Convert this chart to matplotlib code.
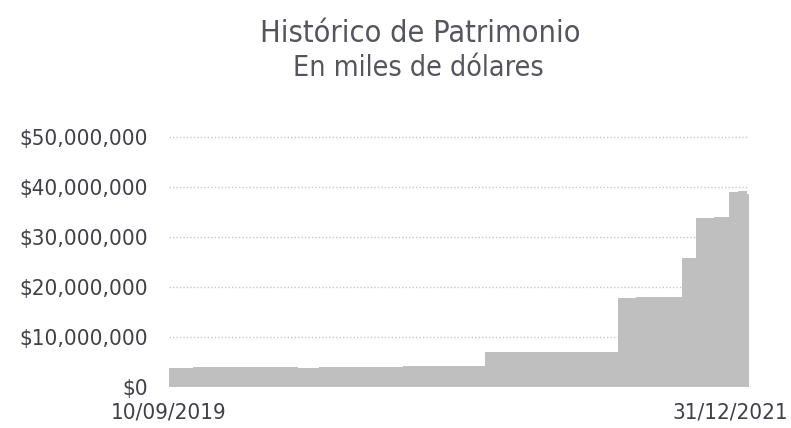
import matplotlib
matplotlib.use("Agg")
import matplotlib.pyplot as plt
import numpy as np
from matplotlib.ticker import FuncFormatter
from matplotlib import font_manager

# Patrimonio (USD); step changes between dates
dates = ["2019-09-10", "2019-10-15", "2019-11-15", "2019-12-15", "2020-01-15",
         "2020-02-15", "2020-03-15", "2020-04-15", "2020-05-15", "2020-06-15",
         "2020-07-15", "2020-08-15", "2020-09-15", "2020-10-15", "2020-11-15",
         "2020-12-13", "2021-01-15", "2021-02-15", "2021-03-15", "2021-04-15",
         "2021-05-15", "2021-06-23", "2021-07-20", "2021-08-20", "2021-09-25",
         "2021-10-15", "2021-11-10", "2021-12-02", "2021-12-15", "2021-12-28",
         "2021-12-31"]
values = [3.85, 3.95, 3.9, 3.9, 3.95,
          3.9, 3.85, 3.9, 3.95, 4.0,
          4.0, 4.1, 4.15, 4.15, 4.2,
          6.95, 7.0, 7.0, 7.05, 7.0,
          7.0, 17.9, 18.0, 18.1, 25.8,
          33.9, 34.1, 39.0, 39.2, 38.6,
          38.6]
y_ticks = [0, 10e6, 20e6, 30e6, 40e6, 50e6]
title = "Histórico de Patrimonio"
subtitle = "En miles de dólares"
start_label = "10/09/2019"
end_label = "31/12/2021"

# condensed face if the system has one
stretch = "normal"
for f in font_manager.fontManager.ttflist:
    if f.name == "DejaVu Sans" and f.stretch == "condensed":
        stretch = "condensed"
plt.rcParams['font.family'] = ["DejaVu Sans"]
plt.rcParams['font.stretch'] = stretch
txt = "#55555f"
lab = "#404048"

x = np.array(dates, dtype="datetime64[D]")
y = np.array(values) * 1e6

fig = plt.figure(figsize=(7.91, 4.28), dpi=100)
ax = fig.add_axes([169 / 791, 1 - 387 / 428, 580 / 791, (387 - 127) / 428])

ax.fill_between(x, 0, y, step="post", color="#bfbfbf", linewidth=0)
ax.set_xlim(x[0], x[-1])
ax.set_ylim(0, 52e6)

ax.set_yticks(y_ticks)
ax.yaxis.set_major_formatter(FuncFormatter(lambda v, p: "${:,.0f}".format(v)))
ax.tick_params(axis="y", length=0, pad=15, labelsize=16, labelcolor=lab)
ax.set_xticks([])
for t in y_ticks[1:]:
    ax.axhline(t, color="#c8c8c8", linestyle=(0, (1, 1.5)), linewidth=1, zorder=0)
for s in ax.spines.values():
    s.set_visible(False)

ax.text(0.0, -0.06, start_label, transform=ax.transAxes, ha="center", va="top",
        fontsize=16, color=lab)
ax.text(561 / 580, -0.06, end_label, transform=ax.transAxes, ha="center", va="top",
        fontsize=16, color=lab)

fig.text(420 / 791, 1 - 33 / 428, title, ha="center", va="center", fontsize=22, color=txt)
fig.text(418 / 791, 1 - 68 / 428, subtitle, ha="center", va="center", fontsize=20.5, color=txt)

fig.savefig("out.png", dpi=100)
